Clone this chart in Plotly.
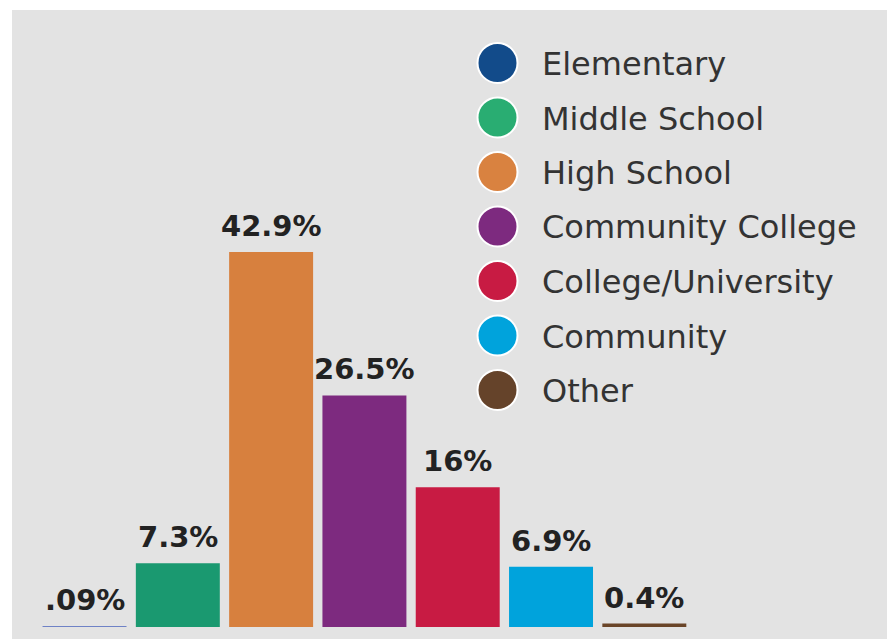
import plotly.graph_objects as go

categories = ["Elementary", "Middle School", "High School", "Community College",
              "College/University", "Community", "Other"]
values = [0.09, 7.3, 42.9, 26.5, 16.0, 6.9, 0.4]
value_labels = [".09%", "7.3%", "42.9%", "26.5%", "16%", "6.9%", "0.4%"]
bar_colors = ["#6f82c6", "#1a9970", "#d7803e", "#7d2a7f", "#c81b43", "#00a3dc", "#6a4528"]
legend_colors = ["#124b8a", "#29ad72", "#d98240", "#7d2a7f", "#c81b43", "#00a3dc", "#65432a"]

W, H = 887, 639
FONT = "DejaVu Sans"

fig = go.Figure()
xs = list(range(len(categories)))
fig.add_trace(go.Bar(
    x=xs, y=values, width=0.9,
    marker=dict(color=bar_colors, line=dict(width=0)),
    showlegend=False, hoverinfo="skip",
))

annotations = []
for i, (v, lab) in enumerate(zip(values, value_labels)):
    annotations.append(dict(
        x=i, y=v, xref="x", yref="y", text=lab, showarrow=False,
        yanchor="bottom", yshift=7,
        font=dict(family=FONT, size=29, color="#222222", weight=600),
    ))

shapes = [dict(type="rect", xref="paper", yref="paper", x0=12 / W, x1=1, y0=0, y1=1 - 10 / H,
               fillcolor="#e3e3e3", line=dict(width=0), layer="below")]

cx, cy0, step, r = 497.5, 63, 54.5, 20
for i, (name, col) in enumerate(zip(categories, legend_colors)):
    cy = cy0 + i * step
    shapes.append(dict(type="circle", xref="paper", yref="paper",
                       x0=(cx - r) / W, x1=(cx + r) / W,
                       y0=1 - (cy + r) / H, y1=1 - (cy - r) / H,
                       fillcolor=col, line=dict(color="white", width=2)))
    annotations.append(dict(x=540 / W, y=1 - (cy + 1) / H, xref="paper", yref="paper",
                            text=name, showarrow=False, xanchor="left", yanchor="middle",
                            font=dict(family=FONT, size=32, color="#333333")))

fig.update_layout(
    width=W, height=H,
    margin=dict(l=0, r=0, t=0, b=0),
    paper_bgcolor="white", plot_bgcolor="rgba(0,0,0,0)",
    xaxis=dict(range=[-0.906, 8.601], visible=False, fixedrange=True),
    yaxis=dict(range=[-1.373, 71.74], visible=False, fixedrange=True),
    shapes=shapes, annotations=annotations,
    bargap=0.1,
)

fig.write_html("out.html", config={"displayModeBar": False})
